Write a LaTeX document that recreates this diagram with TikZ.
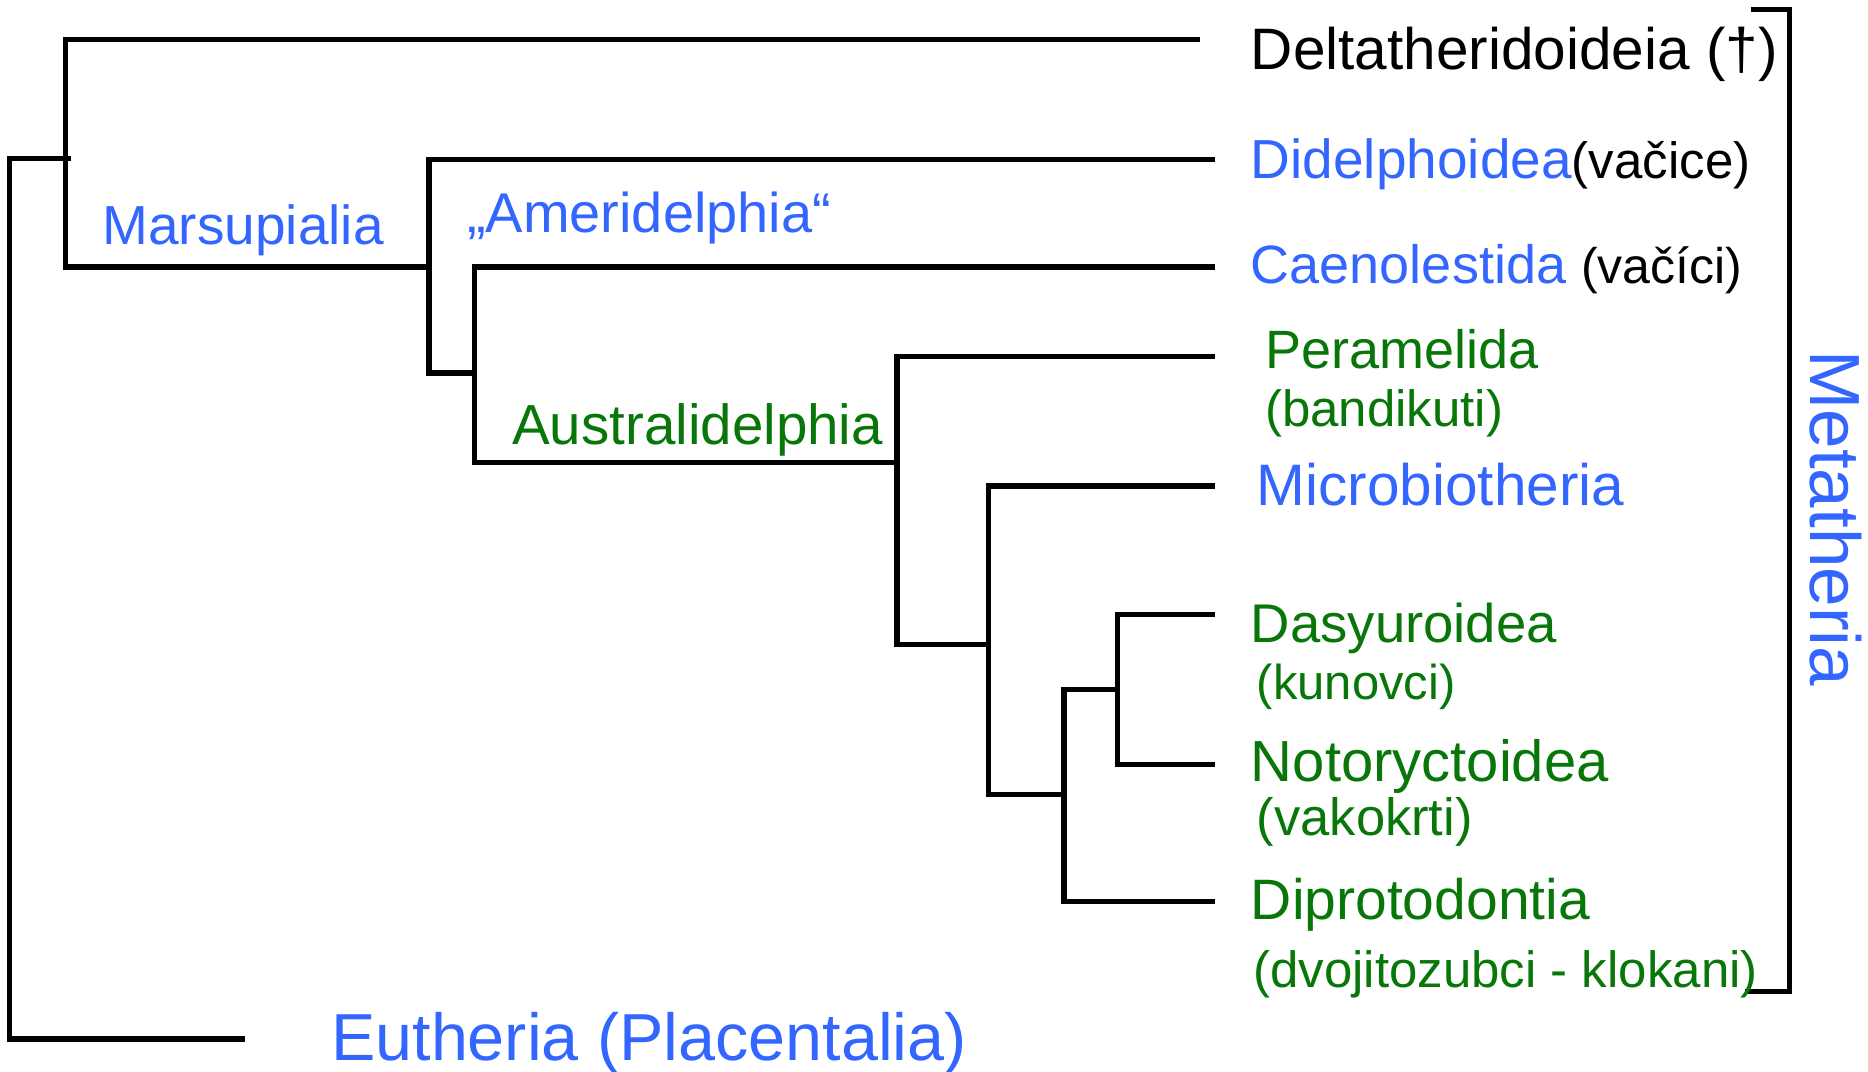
\documentclass[tikz,border=0pt]{standalone}
\usepackage{fontspec}
\setmainfont{Liberation Sans}
\definecolor{tblue}{RGB}{51,102,255}
\definecolor{tgreen}{RGB}{8,118,8}
\newcommand{\fsz}[1]{\fontsize{#1}{#1}\selectfont}
\begin{document}
\begin{tikzpicture}[x=1.1913pt,y=-1.1913pt,
  br/.style={line width=5.3pt, line join=miter},
  lab/.style={anchor=base west, inner sep=0pt, outer sep=0pt},
  big/.style={font=\fsz{56}},
  small/.style={font=\fsz{51}}]
\useasboundingbox (0,0) rectangle (1568,899);

% tip coordinates
\coordinate (tDel) at (1007,33);
\coordinate (tDid) at (1020,134);
\coordinate (tCae) at (1020,224);
\coordinate (tPer) at (1020,299);
\coordinate (tMic) at (1020,408);
\coordinate (tDas) at (1020,516);
\coordinate (tNot) at (1020,642);
\coordinate (tDip) at (1020,757);
\coordinate (tEut) at (206,872);
% internal nodes
\coordinate (rT) at (8,133);
\coordinate (rB) at (8,872);
\coordinate (rS) at (60,133);
\coordinate (aT) at (55,33);
\coordinate (aB) at (55,224);
\coordinate (bT) at (360,134);
\coordinate (bB) at (360,313);
\coordinate (cJ) at (398,313);
\coordinate (cT) at (398,224);
\coordinate (cB) at (398,388);
\coordinate (dT) at (753,299);
\coordinate (dB) at (753,541);
\coordinate (eT) at (830,408);
\coordinate (eB) at (830,667);
\coordinate (fT) at (893,579);
\coordinate (fB) at (893,757);
\coordinate (gJ) at (938,579);
\coordinate (gT) at (938,516);
\coordinate (gB) at (938,642);
% bracket
\coordinate (k1) at (1470,8);
\coordinate (k2) at (1502,8);
\coordinate (k3) at (1502,832);
\coordinate (k4) at (1465,832);

% branches
\draw[br] (rS) -- (rT) -- (rB) -- (tEut);
\draw[br] (tDel) -- (aT) -- (aB) -- (aB -| bT);
\draw[br] (tDid) -- (bT) -- (bB) -- (cJ);
\draw[br] (tCae) -- (cT) -- (cB) -- (cB -| dT);
\draw[br] (tPer) -- (dT) -- (dB) -- (dB -| eT);
\draw[br] (tMic) -- (eT) -- (eB) -- (eB -| fT);
\draw[br] (gJ) -- (fT) -- (fB) -- (tDip);
\draw[br] (tDas) -- (gT) -- (gB) -- (tNot);
\draw[br] (k1) -- (k2) -- (k3) -- (k4);

% tip labels
\node[lab, font=\fsz{58.5}] (nDel) at (1050,58) {Deltatheridoideia (†)};
\node[lab, font=\fsz{55}, tblue] (nDid) at (1050,150) {Didelphoidea{\color{black}\fsz{51}(vačice)}};
\node[lab, font=\fsz{54}, tblue] (nCae) at (1050,238) {Caenolestida {\color{black}\fsz{50}(vačíci)}};
\node[lab, font=\fsz{54}, tgreen] (nPer) at (1062,309) {Peramelida};
\node[lab, small, tgreen] (nPer2) at (1062,358) {(bandikuti)};
\node[lab, font=\fsz{58.5}, tblue] (nMic) at (1055,424) {Microbiotheria};
\node[lab, font=\fsz{54.5}, tgreen] (nDas) at (1050,539) {Dasyuroidea};
\node[lab, font=\fsz{49}, tgreen] (nDas2) at (1055,587) {(kunovci)};
\node[lab, font=\fsz{58}, tgreen] (nNot) at (1050,656) {Notoryctoidea};
\node[lab, font=\fsz{52.5}, tgreen] (nNot2) at (1055,701) {(vakokrti)};
\node[lab, font=\fsz{57}, tgreen] (nDip) at (1050,772) {Diprotodontia};
\node[lab, small, tgreen] (nDip2) at (1052,829) {(dvojitozubci - klokani)};
\node[lab, font=\fsz{66.5}, tblue] (nEut) at (278,890) {Eutheria (Placentalia)};

% clade labels
\node[lab, font=\fsz{55}, tblue] (nMar) at (86,205) {Marsupialia};
\node[lab, font=\fsz{56}, tblue] (nAme) at (392,195) {„Ameridelphia“};
\node[lab, font=\fsz{56.5}, tgreen] (nAus) at (430,373) {Australidelphia};
\node[rotate=-90, inner sep=0pt, font=\fsz{71}, tblue] (nMet) at (1541,435) {Metatheria};
\end{tikzpicture}
\end{document}
